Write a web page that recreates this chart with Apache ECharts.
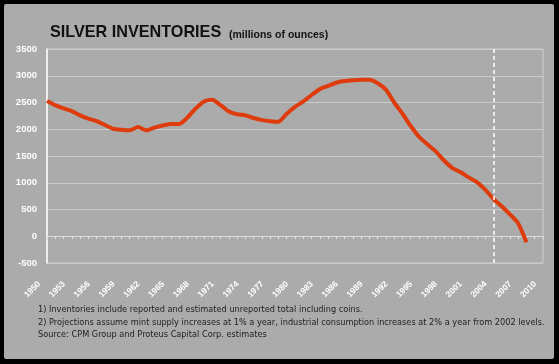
<!DOCTYPE html>
<html>
<head>
<meta charset="utf-8">
<script src="https://cdn.jsdelivr.net/npm/echarts@6/dist/echarts.min.js"></script>
<style>
html,body{margin:0;padding:0;background:#000;}
#c{width:559px;height:364px;}
</style>
</head>
<body>
<div id="c"></div>
<script>
// Years on the category axis (1950..2010)
var years = [];
for (var y = 1950; y <= 2010; y++) years.push(String(y));

// Silver inventories, millions of ounces, 1950..2008
var inventories = [
  2530, 2450, 2390, 2340, 2260, 2200, 2150, 2080, 2010, 1990,
  1980, 2040, 1980, 2030, 2070, 2100, 2100, 2220, 2390, 2520,
  2550, 2450, 2330, 2280, 2260, 2210, 2170, 2150, 2140, 2290,
  2420, 2520, 2640, 2750, 2810, 2870, 2900, 2915, 2925, 2925,
  2860, 2740, 2500, 2290, 2060, 1860, 1720, 1590, 1420, 1280,
  1200, 1100, 1010, 870, 700, 560, 410, 240, -110
];

var projectionStart = '2004';

var yTicks = { min: -500, max: 3500, interval: 500 };

var titleMain = 'SILVER INVENTORIES';
var titleSub = '(millions of ounces)';
var notes = [
  '1) Inventories include reported and estimated unreported total including coins.',
  '2) Projections assume mint supply increases at 1% a year, industrial consumption increases at 2% a year from 2002 levels.',
  'Source: CPM Group and Proteus Capital Corp. estimates'
];

var chart = echarts.init(document.getElementById('c'), null, {renderer: 'canvas'});

var noteTitles = notes.map(function (t, i) {
  return {
    text: t, left: 33, top: 301 + i * 12.5,
    textStyle: {fontFamily: 'DejaVu Sans', fontSize: 8.2, fontWeight: 'normal', color: '#1e1e1e'}
  };
});

chart.setOption({
  backgroundColor: '#000',
  animation: false,
  graphic: [{
    type: 'rect', z: -10, silent: true,
    shape: {x: 4, y: 4, width: 550, height: 355, r: 2},
    style: {fill: '#ababab'}
  }],
  title: [
    {text: titleMain, left: 45, top: 20,
     textStyle: {fontFamily: 'Liberation Sans', fontSize: 16.2, fontWeight: 'bold', color: '#111'}},
    {text: titleSub, left: 224, top: 25,
     textStyle: {fontFamily: 'Liberation Sans', fontSize: 10.5, fontWeight: 'bold', color: '#111'}}
  ].concat(noteTitles),
  grid: {left: 47, right: 16, top: 49, bottom: 101, show: true, borderColor: '#cfcfcf', borderWidth: 1, backgroundColor: 'transparent'},
  xAxis: {
    type: 'category', data: years, boundaryGap: false,
    axisLine: {lineStyle: {color: '#dddddd', width: 1}},
    axisTick: {show: true, interval: 0, length: 3, lineStyle: {color: '#dddddd'}},
    axisLabel: {
      interval: 2, rotate: 45, margin: 12, padding: [0, 11, 0, 0],
      color: '#ffffff', fontFamily: 'Liberation Sans', fontWeight: 'bold', fontSize: 8.5
    },
    splitLine: {show: false}
  },
  yAxis: {
    type: 'value', min: yTicks.min, max: yTicks.max, interval: yTicks.interval,
    axisLine: {show: true, lineStyle: {color: '#ffffff', width: 1.5}},
    axisTick: {show: false},
    axisLabel: {margin: 10, color: '#ffffff', fontFamily: 'Liberation Sans', fontWeight: 'bold', fontSize: 9.5,
      formatter: function (v) { return String(v); }},
    splitLine: {lineStyle: {color: '#cacaca', width: 1}}
  },
  series: [{
    type: 'line', data: inventories, showSymbol: false, smooth: 0.2,
    lineStyle: {color: '#de3c0c', width: 4},
    markLine: {
      silent: true, symbol: 'none', label: {show: false},
      lineStyle: {color: '#ffffff', type: [4, 3], width: 1.5},
      data: [{xAxis: projectionStart}]
    }
  }]
});
</script>
</body>
</html>
